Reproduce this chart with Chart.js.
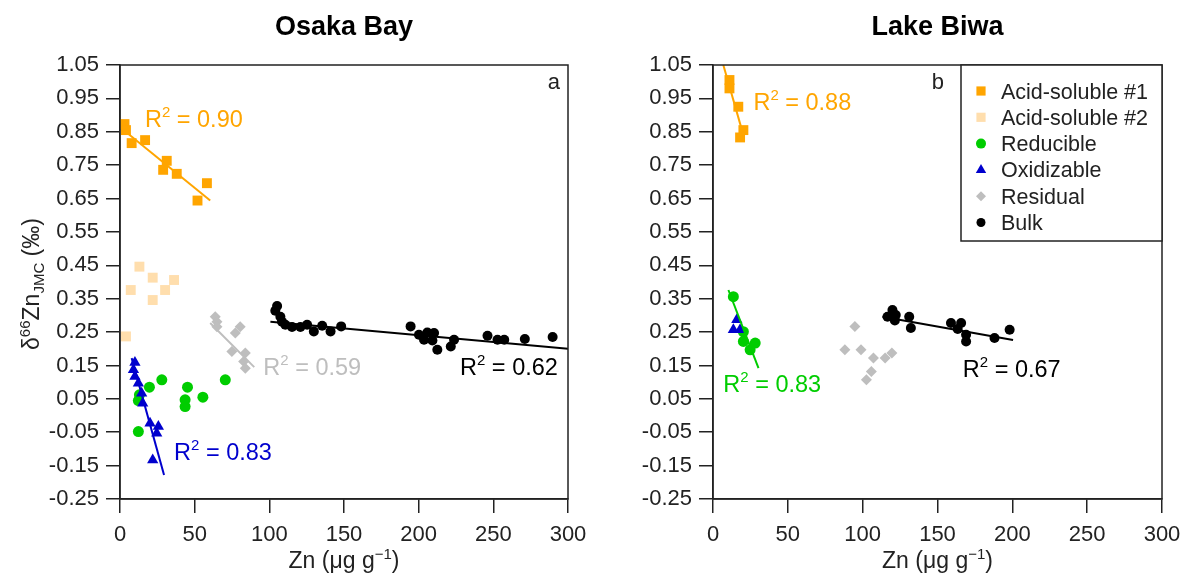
<!DOCTYPE html>
<html>
<head>
<meta charset="utf-8">
<title>Zn isotopes - Osaka Bay / Lake Biwa</title>
<script src="https://cdn.jsdelivr.net/npm/chart.js@4.4.1/dist/chart.umd.min.js"></script>
<style>
    body { margin: 0; background: #fff; }
    #wrap { position: relative; width: 1184px; height: 579px; overflow: hidden; }
    .panel { position: absolute; top: 0; width: 592px; height: 579px; }
</style>
</head>
<body>
<div id="wrap">
    <div class="panel" style="left:0"><canvas id="osaka" width="592" height="579"></canvas></div>
    <div class="panel" style="left:592px"><canvas id="biwa" width="592" height="579"></canvas></div>
</div>
<script>
// Series names and styles (legend order)
const seriesNames = ['Acid-soluble #1', 'Acid-soluble #2', 'Reducible', 'Oxidizable', 'Residual', 'Bulk'];
const seriesColors = ['#FFA500', '#FFDEAD', '#00CD00', '#0000CD', '#BEBEBE', '#000000'];
const seriesStyles = ['rect', 'rect', 'circle', 'triangle', 'rectRot', 'circle'];
const seriesRadius = [7, 7, 5.5, 6.5, 5.5, 5];

// Axis ticks
const xTicks = [0, 50, 100, 150, 200, 250, 300];
const yTicks = [-0.25, -0.15, -0.05, 0.05, 0.15, 0.25, 0.35, 0.45, 0.55, 0.65, 0.75, 0.85, 0.95, 1.05];

// ---- Osaka Bay (panel a) ----
const osakaAcid1X = [3, 4, 7.8, 16.8, 31.3, 28.9, 38, 58.2, 51.9];
const osakaAcid1Y = [0.873, 0.855, 0.816, 0.825, 0.763, 0.736, 0.724, 0.696, 0.644];
const osakaAcid2X = [4, 7.2, 13, 21.9, 21.9, 30.2, 36.2];
const osakaAcid2Y = [0.237, 0.376, 0.446, 0.413, 0.346, 0.376, 0.406];
const osakaRedX = [28, 19.7, 13, 12.3, 45.2, 43.6, 43.6, 55.5, 70.5, 12.3];
const osakaRedY = [0.107, 0.085, 0.062, 0.045, 0.085, 0.047, 0.027, 0.055, 0.107, -0.048];
const osakaOxX = [10, 9, 10, 12.3, 14.5, 15.2, 20.1, 25.7, 24.6, 21.9];
const osakaOxY = [0.159, 0.137, 0.117, 0.097, 0.067, 0.037, -0.023, -0.033, -0.053, -0.133];
const osakaResX = [63.8, 64.9, 64.9, 80.5, 77.2, 74.9, 83.9, 82.8, 83.9];
const osakaResY = [0.296, 0.281, 0.266, 0.266, 0.247, 0.192, 0.187, 0.162, 0.142];
const osakaBulkX = [105.2, 104, 107.4, 108.5, 110.7, 115.2, 120.8, 125.3, 129.8, 135.4, 141, 148.1,
    194.6, 200.2, 203.6, 205.8, 210.3, 209.2, 212.5, 221.5, 223.7, 246.1, 252.8, 257.3, 271.1, 289.7];
const osakaBulkY = [0.328, 0.314, 0.296, 0.281, 0.272, 0.265, 0.265, 0.272, 0.252, 0.269, 0.252, 0.267,
    0.267, 0.242, 0.227, 0.249, 0.247, 0.225, 0.197, 0.207, 0.227, 0.239, 0.227, 0.227, 0.229, 0.235];

// fitted lines (end points)
const osakaAcid1FitX = [0.5, 60.4];
const osakaAcid1FitY = [0.862, 0.644];
const osakaOxFitX = [7.8, 29.5];
const osakaOxFitY = [0.172, -0.178];
const osakaResFitX = [60.4, 89.9];
const osakaResFitY = [0.277, 0.145];
const osakaBulkFitX = [100.7, 300];
const osakaBulkFitY = [0.281, 0.200];

// ---- Lake Biwa (panel b) ----
const biwaAcid1X = [11, 11, 16.9, 20.3, 18.1];
const biwaAcid1Y = [1.005, 0.98, 0.925, 0.855, 0.833];
const biwaRedX = [13.6, 20.3, 20.3, 28.2, 24.8];
const biwaRedY = [0.356, 0.251, 0.222, 0.217, 0.197];
const biwaOxX = [15.9, 13.6, 18.1];
const biwaOxY = [0.287, 0.257, 0.257];
const biwaResX = [94.8, 88.1, 98.9, 107.2, 115, 119.5, 105.8, 102.5];
const biwaResY = [0.267, 0.197, 0.197, 0.172, 0.172, 0.187, 0.132, 0.107];
const biwaBulkX = [116.6, 119.9, 122.1, 121.5, 131.1, 132.2, 159, 165.8, 163.5, 169.1, 169.1, 188.1, 198.2];
const biwaBulkY = [0.296, 0.316, 0.301, 0.285, 0.296, 0.262, 0.277, 0.277, 0.259, 0.242, 0.222, 0.232, 0.257];

const biwaAcid1FitX = [6.9, 20.3];
const biwaAcid1FitY = [1.05, 0.84];
const biwaRedFitX = [10.3, 30.4];
const biwaRedFitY = [0.376, 0.142];
const biwaBulkFitX = [113.2, 200.5];
const biwaBulkFitY = [0.296, 0.226];

// R² labels: [x, y, text, series index]
const osakaR2 = [[16.7, 0.865, '0.90', 0], [36.2, -0.133, '0.83', 3], [96, 0.122, '0.59', 4], [227.7, 0.122, '0.62', 5]];
const biwaR2 = [[27, 0.915, '0.88', 0], [6.9, 0.071, '0.83', 2], [166.9, 0.116, '0.67', 5]];

const FONT = '"Liberation Sans", Arial, sans-serif';
const INK = '#222';

function pts(xs, ys) {
    return xs.map((x, i) => ({ x: x, y: ys[i] }));
}

function scatterSet(idx, xs, ys) {
    return {
        label: seriesNames[idx],
        data: pts(xs, ys),
        pointStyle: seriesStyles[idx],
        pointRadius: seriesRadius[idx],
        pointHoverRadius: seriesRadius[idx],
        pointBackgroundColor: seriesColors[idx],
        pointBorderWidth: 0,
        showLine: false,
        order: 1
    };
}

function fitSet(idx, xs, ys) {
    return {
        label: seriesNames[idx] + ' fit',
        data: pts(xs, ys),
        showLine: true,
        borderColor: seriesColors[idx],
        borderWidth: 2,
        pointRadius: 0,
        order: 0
    };
}

// text made of pieces, some raised or lowered
function richText(ctx, parts, x, y) {
    let cx = x;
    parts.forEach(p => {
        ctx.font = p.size + 'px ' + FONT;
        ctx.fillText(p.t, cx, y - (p.shift || 0));
        cx += ctx.measureText(p.t).width;
    });
    return cx - x;
}

function measureRich(ctx, parts) {
    let w = 0;
    parts.forEach(p => {
        ctx.font = p.size + 'px ' + FONT;
        w += ctx.measureText(p.t).width;
    });
    return w;
}

const decorPlugin = {
    id: 'decor',
    afterDraw(chart, args, opts) {
        const ctx = chart.ctx;
        const area = chart.chartArea;
        const xs = chart.scales.x;
        const ys = chart.scales.y;
        const midX = (area.left + area.right) / 2;
        ctx.save();

        // box round the plot
        ctx.strokeStyle = INK;
        ctx.lineWidth = 1.5;
        ctx.strokeRect(area.left, area.top, area.right - area.left, area.bottom - area.top);

        // panel title
        ctx.fillStyle = '#000';
        ctx.textAlign = 'center';
        ctx.textBaseline = 'alphabetic';
        ctx.font = 'bold 27px ' + FONT;
        ctx.fillText(opts.title, midX, 35);

        // x axis title
        ctx.textAlign = 'left';
        ctx.fillStyle = INK;
        const xParts = [{ t: 'Zn (\u03bcg g', size: 23 }, { t: '\u22121', size: 15, shift: 9 }, { t: ')', size: 23 }];
        const xw = measureRich(ctx, xParts);
        richText(ctx, xParts, midX - xw / 2, 568);

        // y axis title (first panel only)
        if (opts.yTitle) {
            const yParts = [{ t: '\u03b4', size: 23 }, { t: '66', size: 15, shift: 9 }, { t: 'Zn', size: 23 },
                { t: 'JMC', size: 15, shift: -5 }, { t: ' (\u2030)', size: 23 }];
            const yw = measureRich(ctx, yParts);
            ctx.save();
            ctx.translate(39, (area.top + area.bottom) / 2 + 2);
            ctx.rotate(-Math.PI / 2);
            richText(ctx, yParts, -yw / 2, 0);
            ctx.restore();
        }

        // R² labels
        opts.r2.forEach(r => {
            ctx.fillStyle = seriesColors[r[3]];
            richText(ctx, [{ t: 'R', size: 23.5 }, { t: '2', size: 15, shift: 10 }, { t: ' = ' + r[2], size: 23.5 }],
                xs.getPixelForValue(r[0]), ys.getPixelForValue(r[1]));
        });

        // legend
        let letterRight = area.right - 8;
        if (opts.legend) {
            const w = 201, h = 176;
            const lx = area.right - w, ly = area.top;
            ctx.fillStyle = '#fff';
            ctx.fillRect(lx, ly, w, h);
            ctx.strokeStyle = INK;
            ctx.strokeRect(lx, ly, w, h);
            seriesNames.forEach((name, i) => {
                const cy = ly + 26 + i * 26.3;
                ctx.fillStyle = seriesColors[i];
                Chart.helpers.drawPoint(ctx, { pointStyle: seriesStyles[i], radius: seriesRadius[i] - 0.5, borderWidth: 0, rotation: 0 }, lx + 20, cy);
                ctx.fillStyle = INK;
                ctx.font = '21.5px ' + FONT;
                ctx.fillText(name, lx + 40, cy + 7.5);
            });
            letterRight = lx - 17;
        }

        // panel letter
        ctx.fillStyle = INK;
        ctx.textAlign = 'right';
        ctx.font = '22px ' + FONT;
        ctx.fillText(opts.letter, letterRight, area.top + 24);

        ctx.restore();
    }
};

function makePanel(canvasId, datasets, decor, leftW, rightPad) {
    const ctx = document.getElementById(canvasId).getContext('2d');
    return new Chart(ctx, {
        type: 'scatter',
        data: { datasets: datasets },
        options: {
            responsive: false,
            animation: false,
            devicePixelRatio: 1,
            layout: { padding: { top: 65, right: rightPad, left: 0, bottom: 0 } },
            plugins: {
                legend: { display: false },
                tooltip: { enabled: false },
                decor: decor
            },
            scales: {
                x: {
                    type: 'linear',
                    min: 0,
                    max: 300,
                    afterBuildTicks: s => { s.ticks = xTicks.map(v => ({ value: v })); },
                    afterFit: s => { s.height = 80; s.paddingLeft = 0; s.paddingRight = 0; },
                    ticks: { color: INK, font: { size: 22, family: FONT }, padding: 9, maxRotation: 0, autoSkip: false },
                    grid: { drawOnChartArea: false, drawTicks: true, tickLength: 14, color: INK, lineWidth: 1.5 },
                    border: { display: true, color: INK, width: 1.5 }
                },
                y: {
                    type: 'linear',
                    min: -0.25,
                    max: 1.05,
                    afterBuildTicks: s => { s.ticks = yTicks.map(v => ({ value: v })); },
                    afterFit: s => { s.width = leftW; s.paddingTop = 0; s.paddingBottom = 0; },
                    ticks: { color: INK, font: { size: 22, family: FONT }, padding: 7, autoSkip: false,
                        callback: v => Number(v).toFixed(2) },
                    grid: { drawOnChartArea: false, drawTicks: true, tickLength: 14, color: INK, lineWidth: 1.5 },
                    border: { display: true, color: INK, width: 1.5 }
                }
            }
        },
        plugins: [decorPlugin]
    });
}

document.addEventListener('DOMContentLoaded', function () {
    makePanel('osaka', [
        fitSet(0, osakaAcid1FitX, osakaAcid1FitY),
        fitSet(3, osakaOxFitX, osakaOxFitY),
        fitSet(4, osakaResFitX, osakaResFitY),
        fitSet(5, osakaBulkFitX, osakaBulkFitY),
        scatterSet(0, osakaAcid1X, osakaAcid1Y),
        scatterSet(1, osakaAcid2X, osakaAcid2Y),
        scatterSet(3, osakaOxX, osakaOxY),
        scatterSet(2, osakaRedX, osakaRedY),
        scatterSet(4, osakaResX, osakaResY),
        scatterSet(5, osakaBulkX, osakaBulkY)
    ], { title: 'Osaka Bay', letter: 'a', yTitle: true, legend: false, r2: osakaR2 }, 120, 24);

    makePanel('biwa', [
        fitSet(0, biwaAcid1FitX, biwaAcid1FitY),
        fitSet(2, biwaRedFitX, biwaRedFitY),
        fitSet(5, biwaBulkFitX, biwaBulkFitY),
        scatterSet(0, biwaAcid1X, biwaAcid1Y),
        scatterSet(3, biwaOxX, biwaOxY),
        scatterSet(2, biwaRedX, biwaRedY),
        scatterSet(4, biwaResX, biwaResY),
        scatterSet(5, biwaBulkX, biwaBulkY)
    ], { title: 'Lake Biwa', letter: 'b', yTitle: false, legend: true, r2: biwaR2 }, 121, 22);
});
</script>
</body>
</html>
